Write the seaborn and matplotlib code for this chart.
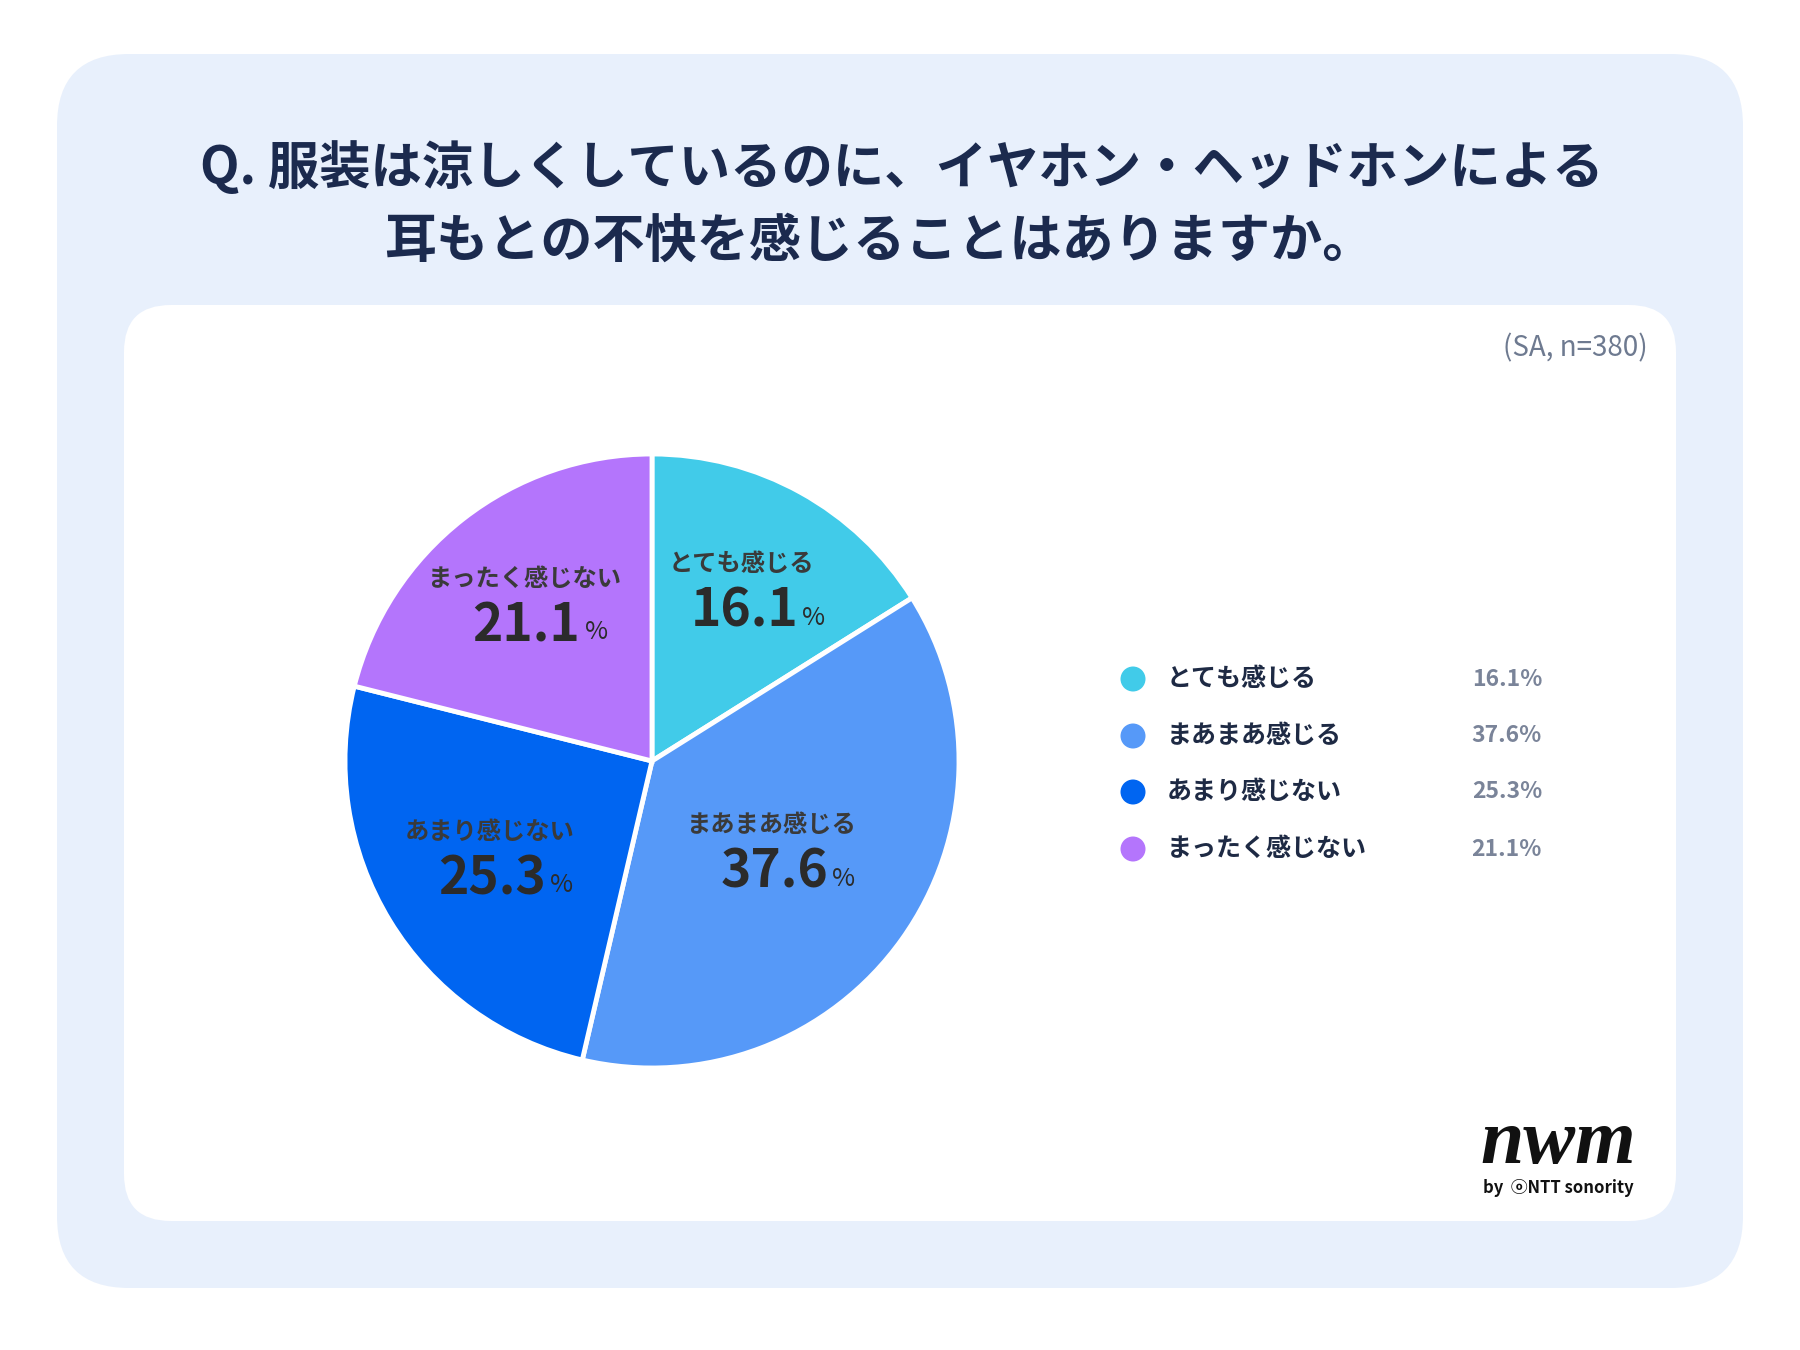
import numpy as np
import matplotlib.pyplot as plt
import seaborn as sns
from matplotlib.patches import FancyBboxPatch, Ellipse

# data
categories = ["とても感じる", "まあまあ感じる", "あまり感じない", "まったく感じない"]
shares = [16.1, 37.6, 25.3, 21.1]
colors = ["#41cbe9", "#5699f8", "#0065f1", "#b475fc"]

title_lines = ["Q. 服装は涼しくしているのに、イヤホン・ヘッドホンによる",
               "耳もとの不快を感じることはありますか。"]
note = "(SA, n=380)"

sns.set_theme(style="white")
plt.rcParams["font.family"] = ["Noto Sans CJK JP", "DejaVu Sans"]

W, H = 1800, 1350
fig = plt.figure(figsize=(W / 100, H / 100), dpi=100, facecolor="white")

def px(x, y):
    # pixel coords (top-left origin) -> figure fraction
    return x / W, 1 - y / H

# background panels (behind the pie axes)
outer = FancyBboxPatch((57 / W, 1 - 1288 / H), (1743 - 57) / W, (1288 - 54) / H,
                       boxstyle="round,pad=0,rounding_size=0.04",
                       transform=fig.transFigure, facecolor="#e8f0fc", edgecolor="none",
                       mutation_aspect=W / H, zorder=-3)
fig.patches.append(outer)
inner = FancyBboxPatch((124 / W, 1 - 1221 / H), (1676 - 124) / W, (1221 - 305) / H,
                       boxstyle="round,pad=0,rounding_size=0.026",
                       transform=fig.transFigure, facecolor="white", edgecolor="none",
                       mutation_aspect=W / H, zorder=-2)
fig.patches.append(inner)

# title
fig.text(*px(902, 168), title_lines[0], ha="center", va="center", fontsize=37,
         fontweight="bold", color="#1b2a4e")
fig.text(*px(879, 241), title_lines[1], ha="center", va="center", fontsize=37.5,
         fontweight="bold", color="#1b2a4e")
fig.text(*px(1648, 348), note, ha="right", va="center", fontsize=20, color="#6e7a90")

# pie
cx, cy, r = 652, 761, 307
half = 325
ax = fig.add_axes([(cx - half) / W, (H - cy - half) / H, 2 * half / W, 2 * half / H])
ax.set_facecolor("none")
wedges, _ = ax.pie(shares, colors=colors, startangle=90, counterclock=False, radius=1,
                   wedgeprops=dict(edgecolor="white", linewidth=3.5))
lim = half / r
ax.set_xlim(-lim, lim)
ax.set_ylim(-lim, lim)
ax.axis("off")

dist = [0.64, 0.50, 0.60, 0.65]
for w, cat, val, d in zip(wedges, categories, shares, dist):
    ang = np.deg2rad((w.theta1 + w.theta2) / 2)
    x, y = d * np.cos(ang), d * np.sin(ang)
    ax.annotate(cat, (x, y), xytext=(-4, 18), textcoords="offset points", ha="center",
                va="center", fontsize=17.5, fontweight="bold", color="#3a3a3a")
    num = ax.annotate(f"{val:.1f}", (x, y), xytext=(-2, -16), textcoords="offset points",
                      ha="center", va="center", fontsize=37, fontweight="bold",
                      color="#2b2b2b")
    ax.annotate("%", xy=(1, 0.38), xycoords=num, xytext=(3, 0), textcoords="offset points",
                ha="left", va="center", fontsize=18, color="#2b2b2b")

# legend
leg_y = [679, 736, 792, 849]
for cat, val, c, ly in zip(categories, shares, colors, leg_y):
    fig.patches.append(Ellipse(px(1133, ly), 25 / W, 25 / H, transform=fig.transFigure,
                               facecolor=c, edgecolor="none"))
    fig.text(*px(1167, ly), cat, ha="left", va="center", fontsize=18, fontweight="bold",
             color="#1e2a44")
    fig.text(*px(1542, ly), f"{val:.1f}%", ha="right", va="center", fontsize=16.5,
             fontweight="bold", color="#7a8499")

# logo
fig.text(*px(1558, 1144), "nwm", ha="center", va="center", fontsize=56, fontweight="bold",
         fontstyle="italic", family="Liberation Serif", color="#111111")
fig.text(*px(1558, 1188), "by  ⓞNTT sonority", ha="center", va="center", fontsize=12,
         fontweight="bold", family=["Noto Sans CJK JP", "DejaVu Sans"], color="#111111")

fig.savefig("out.png", dpi=100, facecolor="white")
